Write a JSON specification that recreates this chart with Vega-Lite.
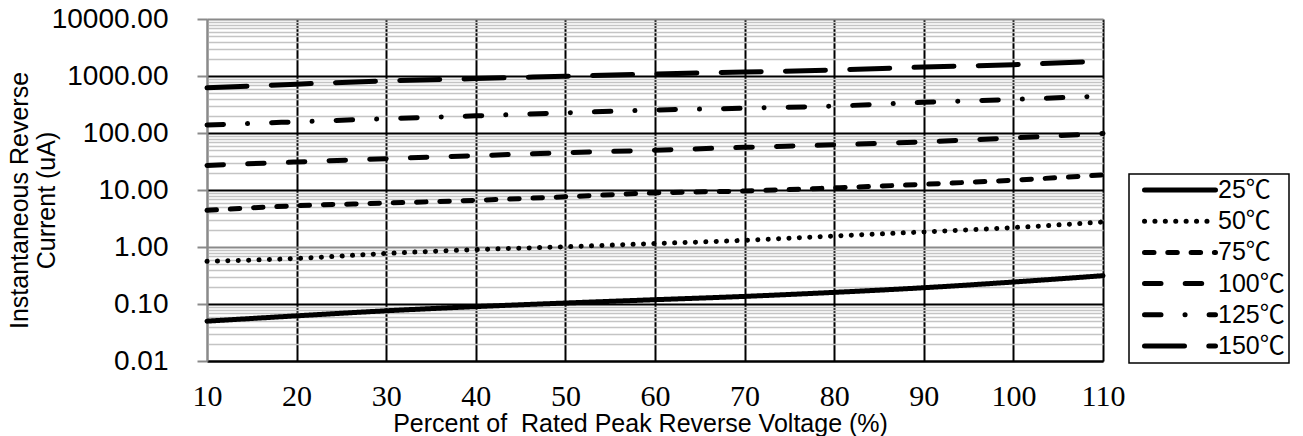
{
  "$schema": "https://vega.github.io/schema/vega-lite/v6.json",
  "width": 896,
  "height": 342,
  "autosize": "none",
  "padding": {"left": 207, "top": 19, "right": 200, "bottom": 75},
  "background": "white",
  "config": {"view": {"stroke": null}},
  "data": {
    "values": [
      {"temp": "25℃", "pct": 10, "ir": 0.050}, {"temp": "25℃", "pct": 20, "ir": 0.062}, {"temp": "25℃", "pct": 30, "ir": 0.076}, {"temp": "25℃", "pct": 40, "ir": 0.090}, {"temp": "25℃", "pct": 50, "ir": 0.104}, {"temp": "25℃", "pct": 60, "ir": 0.119}, {"temp": "25℃", "pct": 70, "ir": 0.136}, {"temp": "25℃", "pct": 80, "ir": 0.160}, {"temp": "25℃", "pct": 90, "ir": 0.193}, {"temp": "25℃", "pct": 100, "ir": 0.243}, {"temp": "25℃", "pct": 110, "ir": 0.314},
      {"temp": "50℃", "pct": 10, "ir": 0.56}, {"temp": "50℃", "pct": 20, "ir": 0.63}, {"temp": "50℃", "pct": 30, "ir": 0.77}, {"temp": "50℃", "pct": 40, "ir": 0.90}, {"temp": "50℃", "pct": 50, "ir": 1.01}, {"temp": "50℃", "pct": 60, "ir": 1.15}, {"temp": "50℃", "pct": 70, "ir": 1.31}, {"temp": "50℃", "pct": 80, "ir": 1.56}, {"temp": "50℃", "pct": 90, "ir": 1.84}, {"temp": "50℃", "pct": 100, "ir": 2.19}, {"temp": "50℃", "pct": 110, "ir": 2.75},
      {"temp": "75℃", "pct": 10, "ir": 4.4}, {"temp": "75℃", "pct": 20, "ir": 5.3}, {"temp": "75℃", "pct": 30, "ir": 5.9}, {"temp": "75℃", "pct": 40, "ir": 6.6}, {"temp": "75℃", "pct": 50, "ir": 7.6}, {"temp": "75℃", "pct": 60, "ir": 8.9}, {"temp": "75℃", "pct": 70, "ir": 9.6}, {"temp": "75℃", "pct": 80, "ir": 10.9}, {"temp": "75℃", "pct": 90, "ir": 12.6}, {"temp": "75℃", "pct": 100, "ir": 14.9}, {"temp": "75℃", "pct": 110, "ir": 18.4},
      {"temp": "100℃", "pct": 10, "ir": 27}, {"temp": "100℃", "pct": 20, "ir": 31}, {"temp": "100℃", "pct": 30, "ir": 35.5}, {"temp": "100℃", "pct": 40, "ir": 40}, {"temp": "100℃", "pct": 50, "ir": 45}, {"temp": "100℃", "pct": 60, "ir": 50}, {"temp": "100℃", "pct": 70, "ir": 56}, {"temp": "100℃", "pct": 80, "ir": 62}, {"temp": "100℃", "pct": 90, "ir": 70}, {"temp": "100℃", "pct": 100, "ir": 82}, {"temp": "100℃", "pct": 110, "ir": 98},
      {"temp": "125℃", "pct": 10, "ir": 138}, {"temp": "125℃", "pct": 20, "ir": 157}, {"temp": "125℃", "pct": 30, "ir": 178}, {"temp": "125℃", "pct": 40, "ir": 200}, {"temp": "125℃", "pct": 50, "ir": 226}, {"temp": "125℃", "pct": 60, "ir": 253}, {"temp": "125℃", "pct": 70, "ir": 272}, {"temp": "125℃", "pct": 80, "ir": 297}, {"temp": "125℃", "pct": 90, "ir": 345}, {"temp": "125℃", "pct": 100, "ir": 389}, {"temp": "125℃", "pct": 110, "ir": 445},
      {"temp": "150℃", "pct": 10, "ir": 620}, {"temp": "150℃", "pct": 20, "ir": 720}, {"temp": "150℃", "pct": 30, "ir": 820}, {"temp": "150℃", "pct": 40, "ir": 900}, {"temp": "150℃", "pct": 50, "ir": 990}, {"temp": "150℃", "pct": 60, "ir": 1084}, {"temp": "150℃", "pct": 70, "ir": 1175}, {"temp": "150℃", "pct": 80, "ir": 1274}, {"temp": "150℃", "pct": 90, "ir": 1438}, {"temp": "150℃", "pct": 100, "ir": 1581}, {"temp": "150℃", "pct": 110, "ir": 1836}
    ]
  },
  "mark": {"type": "line", "color": "black", "strokeWidth": 5, "strokeCap": "round", "interpolate": "monotone"},
  "encoding": {
    "x": {
      "field": "pct", "type": "quantitative",
      "scale": {"domain": [10, 110], "nice": false, "zero": false},
      "axis": {
        "values": [10, 20, 30, 40, 50, 60, 70, 80, 90, 100, 110],
        "title": "Percent of \u00a0Rated Peak Reverse Voltage (%)",
        "grid": true,
        "gridColor": {"condition": {"test": "datum.value == 10", "value": "#888888"}, "value": "black"},
        "gridWidth": 2,
        "ticks": false,
        "domainColor": "black", "domainWidth": 2,
        "labelFont": "Liberation Serif", "labelFontSize": 30, "labelColor": "black",
        "labelPadding": 20, "labelFlush": false, "labelOverlap": false,
        "titleFont": "Liberation Sans", "titleFontSize": 25, "titleFontWeight": "normal", "titleColor": "black",
        "titleX": 433, "titleY": 70, "titleBaseline": "alphabetic", "titleAlign": "center"
      }
    },
    "y": {
      "field": "ir", "type": "quantitative",
      "scale": {"type": "log", "domain": [0.01, 10000], "nice": false},
      "axis": {
        "values": [0.01, 0.02, 0.03, 0.04, 0.05, 0.06, 0.07, 0.08, 0.09, 0.1, 0.2, 0.3, 0.4, 0.5, 0.6, 0.7, 0.8, 0.9, 1, 2, 3, 4, 5, 6, 7, 8, 9, 10, 20, 30, 40, 50, 60, 70, 80, 90, 100, 200, 300, 400, 500, 600, 700, 800, 900, 1000, 2000, 3000, 4000, 5000, 6000, 7000, 8000, 9000, 10000],
        "labelExpr": "indexof([0.01, 0.1, 1, 10, 100, 1000, 10000], datum.value) >= 0 ? format(datum.value, '.2f') : ''",
        "labelOverlap": false, "labelBound": false, "labelFlush": false,
        "title": ["Instantaneous Reverse", "Current (uA)"],
        "grid": true,
        "gridColor": {"condition": [
          {"test": "datum.value == 1 || datum.value == 10000", "value": "#8a8a8a"},
          {"test": "indexof([0.01, 0.1, 10, 100, 1000], datum.value) >= 0", "value": "black"}
        ], "value": "#c4c4c4"},
        "gridWidth": {"condition": {"test": "indexof([0.01, 0.1, 1, 10, 100, 1000, 10000], datum.value) >= 0", "value": 2}, "value": 1.5},
        "ticks": true, "tickSize": 10, "tickWidth": 2,
        "tickColor": {"condition": {"test": "indexof([0.01, 0.1, 1, 10, 100, 1000, 10000], datum.value) >= 0", "value": "#8a8a8a"}, "value": "transparent"},
        "domainColor": "#8a8a8a", "domainWidth": 2,
        "labelFont": "Liberation Sans", "labelFontSize": 28, "labelColor": "black", "labelPadding": 29,
        "titleFont": "Liberation Sans", "titleFontSize": 25, "titleFontWeight": "normal", "titleColor": "black",
        "titleX": -200, "titleY": 181, "titleAngle": 270, "titleBaseline": "top", "titleAlign": "center", "titleLineHeight": 27
      }
    },
    "strokeDash": {
      "field": "temp", "type": "nominal",
      "scale": {
        "domain": ["25℃", "50℃", "75℃", "100℃", "125℃", "150℃"],
        "range": [[1, 0], [0.1, 10.3], [9.5, 13.8], [16.5, 24.2], [16.5, 24, 0.1, 24], [40, 24.3]]
      },
      "legend": {
        "orient": "none", "legendX": 922, "legendY": 155,
        "title": null,
        "symbolType": "stroke", "symbolSize": 5041, "symbolStrokeWidth": 5, "symbolStrokeColor": "black",
        "clipHeight": 24, "rowPadding": 6.2, "padding": 4, "symbolOffset": 9, "labelOffset": 0,
        "labelExpr": "datum.label + '\u2003'",
        "labelFont": "Liberation Sans, Noto Sans CJK JP", "labelFontSize": 25, "labelColor": "black",
        "strokeColor": "black", "fillColor": "white",
        "encode": {
          "symbols": {"update": {"strokeCap": {"value": "round"}}},
          "legend": {"update": {"strokeWidth": {"value": 1.5}}}
        }
      }
    }
  }
}
